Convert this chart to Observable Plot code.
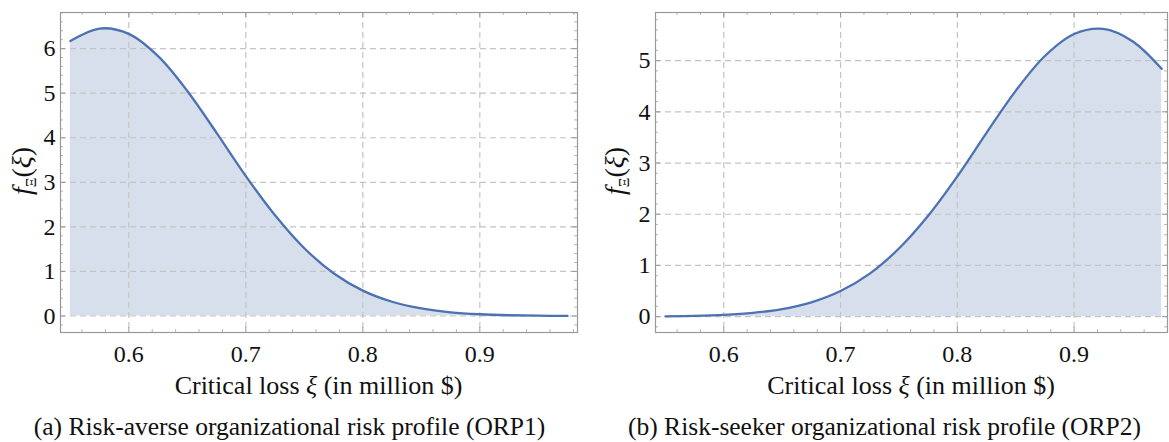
<!DOCTYPE html>
<html>
<head>
<meta charset="utf-8">
<script src="https://cdn.jsdelivr.net/npm/d3@7"></script>
<script src="https://cdn.jsdelivr.net/npm/@observablehq/plot@0.6"></script>
<style>
  html, body { margin: 0; padding: 0; background: #fff; }
  #wrap { position: relative; width: 1169px; height: 442px; overflow: hidden; background: #fff;
          font-family: 'Liberation Serif', 'Times New Roman', serif; }
  .panel { position: absolute; top: 0; }
  .caption { position: absolute; top: 414px; font-size: 25.5px; line-height: 1; white-space: nowrap;
             color: #111; text-align: center; }
</style>
</head>
<body>
<div id="wrap"></div>
<script>
// ---- data ----
const xi = [0.55, 0.575, 0.6, 0.625, 0.65, 0.675, 0.7, 0.725, 0.75, 0.775, 0.8, 0.825, 0.85, 0.875, 0.9, 0.925, 0.95, 0.975];
const densityORP1 = [6.17, 6.45, 6.33, 5.83, 5.05, 4.11, 3.14, 2.26, 1.52, 0.96, 0.57, 0.32, 0.169, 0.083, 0.039, 0.017, 0.007, 0.003];
const densityORP2 = [0.006, 0.015, 0.034, 0.073, 0.147, 0.28, 0.50, 0.84, 1.33, 1.97, 2.74, 3.59, 4.41, 5.09, 5.52, 5.62, 5.38, 4.84];
const xTickValues = [0.6, 0.7, 0.8, 0.9];
const yTicksORP1 = [0, 1, 2, 3, 4, 5, 6];
const yTicksORP2 = [0, 1, 2, 3, 4, 5];
const captions = [
  "(a) Risk-averse organizational risk profile (ORP1)",
  "(b) Risk-seeker organizational risk profile (ORP2)"
];

const LINE = "#4c72b2";
const FILL = "#d8dfec";
const GRID = "#c4c4c4";
const FRAME = "#999999";
const FONT = "'Liberation Serif', 'Times New Roman', serif";

function makePanel(cfg) {
  const data = xi.map((x, i) => ({x, y: cfg.values[i]}));
  const W = cfg.width, H = 400;
  const mt = 12, mb = 68;
  const innerW = W - cfg.marginLeft - cfg.marginRight;
  const innerH = H - mt - mb;
  const xMinor = d3.range(0.52, 1.0, 0.02).map(v => +v.toFixed(2))
    .filter(v => v > cfg.xDomain[0] && v < cfg.xDomain[1] && !xTickValues.some(t => Math.abs(t - v) < 1e-6));
  const yMinor = d3.range(-1, 8, 0.2).map(v => +v.toFixed(1))
    .filter(v => v > cfg.yDomain[0] && v < cfg.yDomain[1] && Math.abs(v - Math.round(v)) > 1e-6);

  const svg = Plot.plot({
    width: W, height: H,
    marginLeft: cfg.marginLeft, marginRight: cfg.marginRight, marginTop: mt, marginBottom: mb,
    style: {fontFamily: FONT, color: "#111", background: "transparent", overflow: "visible"},
    x: {domain: cfg.xDomain},
    y: {domain: cfg.yDomain},
    marks: [
      Plot.areaY(data, {x: "x", y: "y", fill: FILL, curve: "catmull-rom"}),
      Plot.ruleX(xTickValues, {x: d => d, stroke: GRID, strokeWidth: 1.2, strokeDasharray: "6,4"}),
      Plot.ruleY(cfg.yTicks, {y: d => d, stroke: GRID, strokeWidth: 1.2, strokeDasharray: "6,4"}),
      Plot.lineY(data, {x: "x", y: "y", stroke: LINE, strokeWidth: 2.3, curve: "catmull-rom"}),
      Plot.frame({stroke: FRAME, strokeWidth: 1.2}),
      // inward major / minor ticks on all four sides
      Plot.tickX(xTickValues, {x: d => d, insetTop: innerH - 5, stroke: FRAME}),
      Plot.tickX(xTickValues, {x: d => d, insetBottom: innerH - 5, stroke: FRAME}),
      Plot.tickX(xMinor, {x: d => d, insetTop: innerH - 3, stroke: FRAME, strokeOpacity: 0.7}),
      Plot.tickX(xMinor, {x: d => d, insetBottom: innerH - 3, stroke: FRAME, strokeOpacity: 0.7}),
      Plot.tickY(cfg.yTicks, {y: d => d, insetRight: innerW - 5, stroke: FRAME}),
      Plot.tickY(cfg.yTicks, {y: d => d, insetLeft: innerW - 5, stroke: FRAME}),
      Plot.tickY(yMinor, {y: d => d, insetRight: innerW - 3, stroke: FRAME, strokeOpacity: 0.7}),
      Plot.tickY(yMinor, {y: d => d, insetLeft: innerW - 3, stroke: FRAME, strokeOpacity: 0.7}),
      Plot.axisX(xTickValues, {tickSize: 0, tickPadding: 12, fontSize: 24, tickFormat: d => d.toFixed(1), label: null}),
      Plot.axisY(cfg.yTicks, {tickSize: 0, tickPadding: 5, fontSize: 24, tickFormat: d => String(d), label: null})
    ]
  });

  const s = d3.select(svg);
  // x-axis label
  const cx = cfg.marginLeft + innerW / 2;
  const xl = s.append("text").attr("x", cx).attr("y", 394).attr("text-anchor", "middle")
    .attr("font-size", 26).attr("font-family", FONT).attr("fill", "#111");
  xl.append("tspan").text("Critical loss ");
  xl.append("tspan").attr("font-style", "italic").text("ξ");
  xl.append("tspan").text(" (in million $)");
  // y-axis label f_Ξ(ξ)
  const yl = s.append("text").attr("transform", `translate(${cfg.ylabelX},171) rotate(-90)`)
    .attr("text-anchor", "middle").attr("font-size", 28).attr("font-family", FONT).attr("fill", "#111");
  yl.append("tspan").attr("font-style", "italic").text("f");
  yl.append("tspan").attr("font-size", 15).attr("dy", 5).text("Ξ");
  yl.append("tspan").attr("dy", -5).text("(");
  yl.append("tspan").attr("font-style", "italic").text("ξ");
  yl.append("tspan").text(")");

  const div = document.createElement("div");
  div.className = "panel";
  div.style.left = cfg.left + "px";
  div.appendChild(svg);
  document.getElementById("wrap").appendChild(div);

  const cap = document.createElement("div");
  cap.className = "caption";
  cap.textContent = cfg.caption;
  cap.style.left = cfg.capLeft + "px";
  cap.style.width = cfg.capWidth + "px";
  document.getElementById("wrap").appendChild(cap);
}

makePanel({
  values: densityORP1, yTicks: yTicksORP1,
  xDomain: [0.5416, 0.9835], yDomain: [-0.37, 6.81],
  width: 590, marginLeft: 60, marginRight: 13, left: 0, ylabelX: 31,
  caption: captions[0], capLeft: 0, capWidth: 579
});
makePanel({
  values: densityORP2, yTicks: yTicksORP2,
  xDomain: [0.5415, 0.98], yDomain: [-0.31, 5.94],
  width: 579, marginLeft: 65, marginRight: 2, left: 590, ylabelX: 34,
  caption: captions[1], capLeft: 600, capWidth: 569
});
</script>
</body>
</html>
